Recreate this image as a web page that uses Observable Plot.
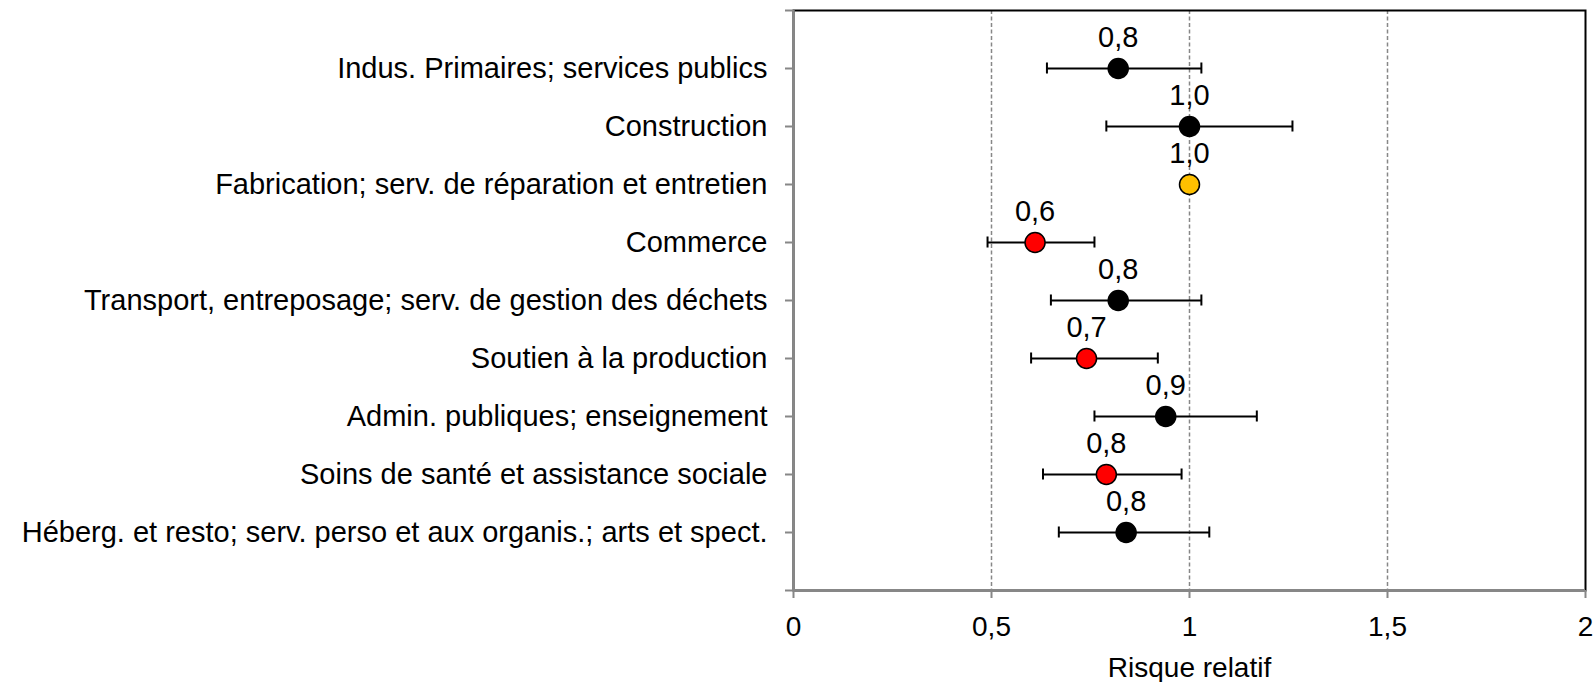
<!DOCTYPE html>
<html>
<head>
<meta charset="utf-8">
<script src="https://cdn.jsdelivr.net/npm/d3@7"></script>
<script src="https://cdn.jsdelivr.net/npm/@observablehq/plot@0.6"></script>
<style>
  html, body { margin: 0; padding: 0; background: #ffffff; }
  #chart { width: 1595px; height: 682px; }
</style>
</head>
<body>
<div id="chart"></div>
<script>
const categories = [
  "Indus. Primaires; services publics",
  "Construction",
  "Fabrication; serv. de réparation et entretien",
  "Commerce",
  "Transport, entreposage; serv. de gestion des déchets",
  "Soutien à la production",
  "Admin. publiques; enseignement",
  "Soins de santé et assistance sociale",
  "Héberg. et resto; serv. perso et aux organis.; arts et spect."
];
const riskRatio = [0.82, 1.00, 1.00, 0.61, 0.82, 0.74, 0.94, 0.79, 0.84];
const ciLow     = [0.64, 0.79, null, 0.49, 0.65, 0.60, 0.76, 0.63, 0.67];
const ciHigh    = [1.03, 1.26, null, 0.76, 1.03, 0.92, 1.17, 0.98, 1.05];
const status    = ["ns", "ns", "ref", "sig", "ns", "sig", "ns", "sig", "ns"];
const xTicks    = [0, 0.5, 1, 1.5, 2];

const rows = categories.map((c, i) => ({
  cat: c, pos: i + 1, rr: riskRatio[i], lo: ciLow[i], hi: ciHigh[i], status: status[i]
}));
const withCI = rows.filter(d => d.lo != null);
const fill = {ns: "#000000", sig: "#FF0000", ref: "#FFC000"};
const comma = v => d3.format(".1f")(v).replace(".", ",");
const capHalf = 0.095;
const grey = "#878787";

const chart = Plot.plot({
  width: 1595,
  height: 682,
  marginTop: 10,
  marginBottom: 92,
  marginLeft: 793,
  marginRight: 10,
  style: {fontFamily: "'Liberation Sans', Arial, sans-serif", color: "#000", background: "transparent", overflow: "visible"},
  x: {domain: [0, 2]},
  y: {domain: [0, 10], reverse: true},
  marks: [
    Plot.gridX({ticks: [0.5, 1, 1.5], stroke: grey, strokeOpacity: 1, strokeWidth: 1.5, strokeDasharray: "4,2.5"}),
    Plot.frame({stroke: "#000", strokeWidth: 2}),
    Plot.ruleX([0], {stroke: grey, strokeWidth: 2.5}),
    Plot.ruleY([10], {stroke: grey, strokeWidth: 3}),
    Plot.axisY({
      ticks: d3.range(0, 11),
      tickSize: 8,
      tickPadding: 18,
      tickFormat: d => categories[d - 1] ?? "",
      fontSize: 29,
      stroke: grey,
      strokeWidth: 2,
      label: null
    }),
    Plot.axisX({
      ticks: xTicks,
      tickSize: 8,
      tickPadding: 18,
      tickFormat: d => String(d).replace(".", ","),
      fontSize: 28,
      stroke: grey,
      strokeWidth: 2,
      label: "Risque relatif",
      labelAnchor: "center",
      labelArrow: "none",
      labelOffset: 86
    }),
    Plot.link(withCI, {x1: "lo", x2: "hi", y1: "pos", y2: "pos", stroke: "#000", strokeWidth: 2}),
    Plot.ruleX(withCI, {x: "lo", y1: d => d.pos - capHalf, y2: d => d.pos + capHalf, stroke: "#000", strokeWidth: 2}),
    Plot.ruleX(withCI, {x: "hi", y1: d => d.pos - capHalf, y2: d => d.pos + capHalf, stroke: "#000", strokeWidth: 2}),
    Plot.dot(rows, {x: "rr", y: "pos", r: 10, fill: d => fill[d.status], stroke: "#000", strokeWidth: 1.5}),
    Plot.text(rows, {x: "rr", y: "pos", text: d => comma(d.rr), dy: -31, fontSize: 29, fill: "#000"})
  ]
});
document.getElementById("chart").appendChild(chart);
</script>
</body>
</html>
